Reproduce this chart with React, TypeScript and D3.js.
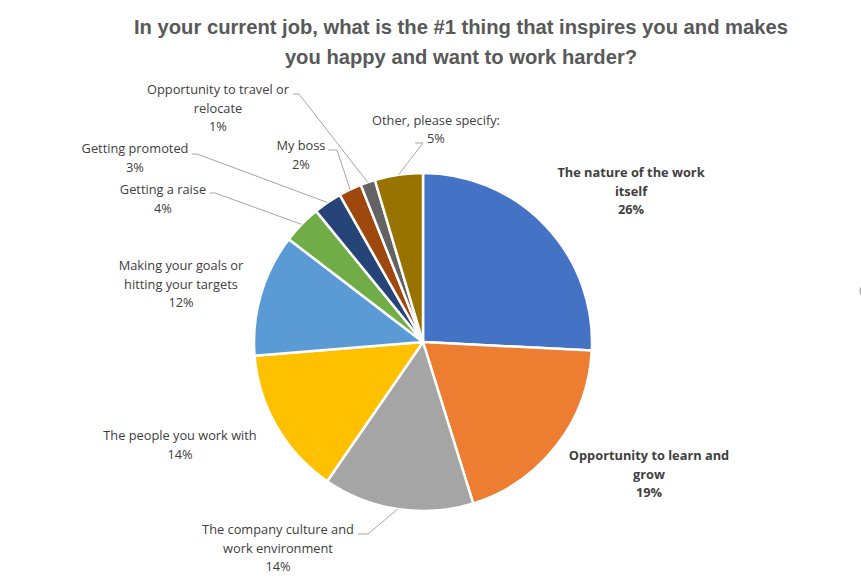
import React from "react";
import * as d3 from "d3";

const categories = [
  "The nature of the work itself",
  "Opportunity to learn and grow",
  "The company culture and work environment",
  "The people you work with",
  "Making your goals or hitting your targets",
  "Getting a raise",
  "Getting promoted",
  "My boss",
  "Opportunity to travel or relocate",
  "Other, please specify:",
];
const values = [25.8, 19.4, 14.4, 14.1, 11.7, 3.7, 2.7, 2.2, 1.4, 4.6];
const colors = [
  "#4472C4", "#ED7D31", "#A5A5A5", "#FFC000", "#5B9BD5",
  "#70AD47", "#264478", "#9E480E", "#636363", "#997300",
];
const labelLines = [
  ["The nature of the work", "itself"],
  ["Opportunity to learn and", "grow"],
  ["The company culture and", "work environment"],
  ["The people you work with"],
  ["Making your goals or", "hitting your targets"],
  ["Getting a raise"],
  ["Getting promoted"],
  ["My boss"],
  ["Opportunity to travel or", "relocate"],
  ["Other, please specify:"],
];
const boldLabels = [true, true, false, false, false, false, false, false, false, false];
const titleLines = [
  "In your current job, what is the #1 thing that inspires you and makes",
  "you happy and want to work harder?",
];

// layout: label centre x, first baseline y, and optional leader stub [x1, x2, y]
const labelLayout: { x: number; y: number; stub?: [number, number, number] }[] = [
  { x: 631, y: 177 },
  { x: 649, y: 460 },
  { x: 278, y: 534, stub: [358, 368, 534] },
  { x: 180, y: 440 },
  { x: 181, y: 270 },
  { x: 163, y: 194, stub: [210, 215, 193] },
  { x: 135, y: 153, stub: [192, 197, 154] },
  { x: 301, y: 150, stub: [328, 337, 150] },
  { x: 218, y: 94, stub: [293, 299, 94] },
  { x: 436, y: 125, stub: [415, 423, 143] },
];

export default function App() {
  const W = 861, H = 582;
  const cx = 423, cy = 342, R = 169;
  const lineH = 18.7;
  const pie = d3.pie<number>().sort(null).value((d) => d).startAngle(0).endAngle(2 * Math.PI);
  const arcs = pie(values);
  const arc = d3.arc<d3.PieArcDatum<number>>().innerRadius(0).outerRadius(R);
  const total = d3.sum(values);
  const pct = (v: number) => `${Math.round((v / total) * 100)}%`;
  const titleFont = "'Liberation Sans', Arial, sans-serif";
  const font = "'Open Sans', 'Noto Sans', sans-serif";

  return (
    <svg width={W} height={H} style={{ position: "absolute", left: 0, top: 0, display: "block", background: "#fff" }}>
      <g fontFamily={titleFont} fontWeight="bold" fontSize={20.2} fill="#595959" textAnchor="middle">
        {titleLines.map((t, i) => (
          <text key={i} x={461} y={34 + i * 30}>{t}</text>
        ))}
      </g>
      <g transform={`translate(${cx},${cy})`}>
        {arcs.map((a, i) => (
          <path key={i} d={arc(a) || ""} fill={colors[i]} stroke="#fff" strokeWidth={2.5} strokeLinejoin="round" />
        ))}
      </g>
      <g fill="none" stroke="#A6A6A6" strokeWidth={1}>
        {arcs.map((a, i) => {
          const s = labelLayout[i].stub;
          if (!s) return null;
          const mid = (a.startAngle + a.endAngle) / 2;
          const px = cx + R * Math.sin(mid);
          const py = cy - R * Math.cos(mid);
          return <polyline key={i} points={`${s[0]},${s[2]} ${s[1]},${s[2]} ${px},${py}`} />;
        })}
      </g>
      <g fontFamily={font} fontSize={12.8} fill="#404040" textAnchor="middle">
        {categories.map((c, i) => {
          const L = labelLayout[i];
          const lines = [...labelLines[i], pct(values[i])];
          const isOther = i === 9;
          return (
            <text key={c} fontWeight={boldLabels[i] ? "bold" : "normal"}>
              {lines.map((ln, j) => (
                <tspan key={j} x={isOther && j === 1 ? 436 : L.x} y={L.y + j * (isOther ? 18 : lineH)}>{ln}</tspan>
              ))}
            </text>
          );
        })}
      </g>
      <circle cx={866} cy={291} r={6} fill="#fff" stroke="#9a9a9a" strokeWidth={1.2} />
    </svg>
  );
}
